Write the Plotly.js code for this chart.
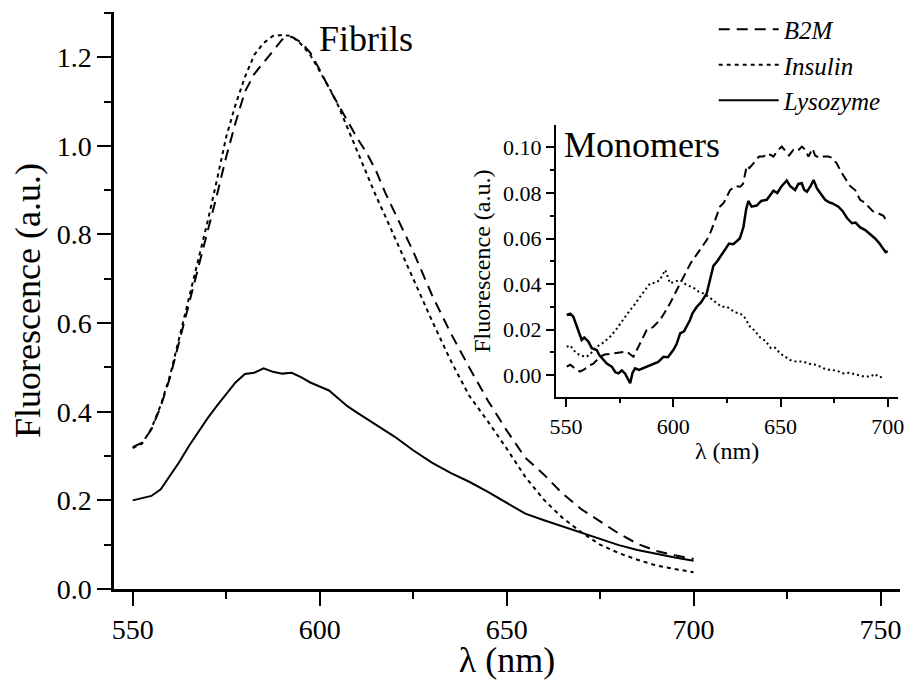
<!DOCTYPE html>
<html>
<head>
<meta charset="utf-8">
<script src="https://cdn.plot.ly/plotly-3.0.1.min.js"></script>
<style>
html,body{margin:0;padding:0;background:#fff;}
#chart{width:919px;height:680px;}
#chart svg text{font-family:"Liberation Serif", serif !important;}
</style>
</head>
<body>
<div id="chart"></div>
<script>
// ---------- Fibrils (main plot) ----------
const fibrilWavelength = [550,552.5,555,557.5,560,562.5,565,567.5,570,572.5,575,577.5,580,582.5,585,587.5,590,592.5,595,597.5,600,602.5,605,607.5,610,612.5,615,617.5,620,625,630,635,640,645,650,655,660,665,670,675,680,685,690,695,700];
const fibrilB2M = [0.320,0.330,0.360,0.412,0.478,0.560,0.642,0.720,0.800,0.888,0.975,1.052,1.122,1.162,1.188,1.215,1.240,1.246,1.234,1.210,1.172,1.130,1.092,1.055,1.018,0.985,0.945,0.895,0.850,0.762,0.664,0.578,0.500,0.425,0.358,0.296,0.258,0.215,0.180,0.152,0.125,0.102,0.086,0.076,0.068];
const fibrilInsulin = [0.318,0.328,0.362,0.415,0.482,0.568,0.655,0.742,0.828,0.922,1.020,1.093,1.155,1.205,1.232,1.248,1.250,1.248,1.230,1.205,1.170,1.132,1.090,1.040,0.990,0.937,0.888,0.842,0.795,0.697,0.606,0.516,0.436,0.378,0.317,0.253,0.201,0.160,0.128,0.100,0.081,0.066,0.053,0.045,0.038];
const fibrilLysozyme = [0.200,0.205,0.210,0.225,0.255,0.287,0.322,0.355,0.385,0.413,0.440,0.466,0.485,0.488,0.498,0.490,0.486,0.488,0.478,0.466,0.457,0.448,0.430,0.412,0.398,0.384,0.372,0.358,0.344,0.313,0.285,0.262,0.242,0.219,0.194,0.170,0.155,0.141,0.128,0.114,0.099,0.088,0.079,0.071,0.064];

// ---------- Monomers (inset) ----------
const monoLysozymeX = [550.3,552,553.4,555,557.3,558.5,560.4,562,564.3,565.5,567.4,569,571.3,573,574.4,576,577.5,579.9,581,582.2,584,586.1,588,590.7,593,595.4,597.5,600,601.5,603.2,605,607.8,609,611,613,615.6,617,618.7,620.5,622,624.2,626,628,629.6,631,632.7,634,635,636.5,638.9,641,643.6,645,646.7,648.5,650.5,652.9,654.5,656.8,658.3,659.9,661,662.3,664,665.4,667,668.5,670.8,672.5,674,677,679,681,683.3,685,687,689.5,691,692.5,694.1,696,698,699,700];
const monoLysozymeY = [0.0264,0.0270,0.0256,0.0212,0.0154,0.0165,0.0147,0.0118,0.0110,0.0088,0.0066,0.0050,0.0037,0.0012,0.0007,0.0020,0.0007,-0.0036,0.0010,0.0029,0.0022,0.0030,0.0040,0.0051,0.0058,0.0080,0.0078,0.0110,0.0135,0.0183,0.0192,0.0242,0.0272,0.0300,0.0320,0.0359,0.0420,0.0480,0.0500,0.0520,0.0550,0.0578,0.0575,0.0590,0.0600,0.0650,0.0730,0.0765,0.0740,0.0745,0.0765,0.0770,0.0790,0.0810,0.0800,0.0830,0.0855,0.0830,0.0813,0.0840,0.0843,0.0815,0.0806,0.0830,0.0857,0.0820,0.0800,0.0770,0.0760,0.0755,0.0740,0.0720,0.0690,0.0667,0.0670,0.0650,0.0637,0.0625,0.0615,0.0600,0.0580,0.0550,0.0540,0.0545];
const monoB2MX = [550.3,552,554,556.5,558.5,560.5,562.7,565.9,568,570,572.1,575,578.3,580,581.4,583,584.5,587.6,590.5,593.8,596,598.5,602.4,606.3,608,610.2,613,615.6,617.5,619.5,621.8,623.4,626.5,629,631.2,632.5,634.3,635.5,637.4,640,642,644,646.7,648.5,650.6,652.5,654,656,658,660,661.5,663,665,666.1,668,670,672.3,674,676.2,678.6,680.5,682.5,684.8,687.1,689,691,693,695.7,698,700];
const monoB2MY = [0.0037,0.0045,0.0030,0.0015,0.0025,0.0040,0.0050,0.0080,0.0090,0.0092,0.0095,0.0100,0.0103,0.0090,0.0080,0.0110,0.0139,0.0198,0.0210,0.0242,0.0275,0.0315,0.0388,0.0460,0.0490,0.0520,0.0555,0.0593,0.0630,0.0680,0.0740,0.0755,0.0813,0.0830,0.0828,0.0840,0.0920,0.0910,0.0930,0.0960,0.0960,0.0975,0.0960,0.0985,0.1004,0.0980,0.0965,0.0990,0.0985,0.1004,0.0990,0.0960,0.0995,0.0965,0.0955,0.0960,0.0960,0.0955,0.0930,0.0887,0.0860,0.0830,0.0813,0.0770,0.0760,0.0740,0.0720,0.0710,0.0700,0.0667];
const monoInsulinX = [550.3,552,553.5,555,557,559.6,561.5,564.3,567,570.5,573,575.2,577.5,579.9,582,584.5,587,589.2,591.5,593.8,595,596.2,597.5,598.5,600.5,603.2,605.5,607.8,610,612,614,617,620.3,622.5,625,628.8,631.2,633.5,635.8,638,640.5,643,645.5,647.5,649.8,652,654.5,657,660.7,663,666.9,670,673.1,676,679.3,682,685.6,688.9,691.8,694,696,698];
const monoInsulinY = [0.0124,0.0130,0.0110,0.0095,0.0085,0.0080,0.0095,0.0124,0.0140,0.0168,0.0195,0.0227,0.0255,0.0286,0.0310,0.0344,0.0375,0.0403,0.0405,0.0418,0.0440,0.0462,0.0430,0.0403,0.0410,0.0418,0.0400,0.0388,0.0380,0.0365,0.0359,0.0340,0.0315,0.0300,0.0300,0.0275,0.0271,0.0250,0.0212,0.0195,0.0165,0.0150,0.0118,0.0120,0.0095,0.0080,0.0066,0.0060,0.0059,0.0050,0.0044,0.0030,0.0022,0.0020,0.0007,0.0010,0.0000,-0.0007,-0.0007,0.0005,-0.0010,-0.0007];

// ---------- Names and tick labels ----------
const seriesNames = ['B2M', 'Insulin', 'Lysozyme'];
const mainXTicks = [550, 600, 650, 700, 750];
const mainXTickLabels = ['550', '600', '650', '700', '750'];
const mainYTicks = [0, 0.2, 0.4, 0.6, 0.8, 1.0, 1.2];
const mainYTickLabels = ['0.0', '0.2', '0.4', '0.6', '0.8', '1.0', '1.2'];
const insetXTicks = [550, 600, 650, 700];
const insetXTickLabels = ['550', '600', '650', '700'];
const insetYTicks = [0, 0.02, 0.04, 0.06, 0.08, 0.10];
const insetYTickLabels = ['0.00', '0.02', '0.04', '0.06', '0.08', '0.10'];

const FONT = 'Liberation Serif';
const black = '#000000';
const serif = s => '<span style="font-family:Liberation Serif">' + s + '</span>';

const traces = [
  {x: fibrilWavelength, y: fibrilB2M, name: serif('<i>' + seriesNames[0] + '</i>'), type: 'scatter', mode: 'lines',
   line: {color: black, width: 2, dash: '11px,7px'}, xaxis: 'x', yaxis: 'y'},
  {x: fibrilWavelength, y: fibrilInsulin, name: serif('<i>' + seriesNames[1] + '</i>'), type: 'scatter', mode: 'lines',
   line: {color: black, width: 2, dash: '4px,4px'}, xaxis: 'x', yaxis: 'y'},
  {x: fibrilWavelength, y: fibrilLysozyme, name: serif('<i>' + seriesNames[2] + '</i>'), type: 'scatter', mode: 'lines',
   line: {color: black, width: 2}, xaxis: 'x', yaxis: 'y'},
  {x: monoB2MX, y: monoB2MY, name: seriesNames[0], type: 'scatter', mode: 'lines', showlegend: false,
   line: {color: black, width: 2, dash: '9px,5px'}, xaxis: 'x2', yaxis: 'y2'},
  {x: monoInsulinX, y: monoInsulinY, name: seriesNames[1], type: 'scatter', mode: 'lines', showlegend: false,
   line: {color: black, width: 2, dash: '2px,3px'}, xaxis: 'x2', yaxis: 'y2'},
  {x: monoLysozymeX, y: monoLysozymeY, name: seriesNames[2], type: 'scatter', mode: 'lines', showlegend: false,
   line: {color: black, width: 2.5}, xaxis: 'x2', yaxis: 'y2'}
];

const axisCommon = {
  showline: true, linecolor: black, showgrid: false, zeroline: false,
  ticks: 'outside', tickcolor: black, mirror: false, tickmode: 'array'
};

const layout = {
  width: 919, height: 680,
  margin: {l: 114, r: 19, t: 12, b: 91, autoexpand: false},
  paper_bgcolor: '#ffffff', plot_bgcolor: 'rgba(0,0,0,0)',
  font: {family: FONT, color: black},
  template: {layout: {font: {family: FONT, color: black}}},
  showlegend: true,
  legend: {
    x: 0.763, y: 1.0095, xanchor: 'left', yanchor: 'top',
    font: {family: FONT, size: 25, color: black},
    itemwidth: 60, bgcolor: 'rgba(0,0,0,0)', borderwidth: 0, tracegroupgap: 0
  },
  xaxis: Object.assign({}, axisCommon, {
    domain: [0, 1], anchor: 'y', range: [545, 755.2],
    tickvals: mainXTicks, ticktext: mainXTickLabels.map(serif), linewidth: 2.5, ticklen: 14, tickwidth: 2,
    minor: {tickvals: [575, 625, 675, 725], ticklen: 7, tickwidth: 2, ticks: 'outside', tickcolor: black},
    tickfont: {family: FONT, size: 28, color: black},
    title: {text: serif('λ (nm)'), font: {family: FONT, size: 36, color: black}, standoff: 12},
    automargin: false
  }),
  yaxis: Object.assign({}, axisCommon, {
    domain: [0, 1], anchor: 'x', range: [0, 1.302],
    tickvals: mainYTicks, ticktext: mainYTickLabels.map(serif), linewidth: 2.5, ticklen: 14, tickwidth: 2,
    minor: {tickvals: [0.1, 0.3, 0.5, 0.7, 0.9, 1.1, 1.3], ticklen: 7, tickwidth: 2, ticks: 'outside', tickcolor: black},
    tickfont: {family: FONT, size: 28, color: black},
    title: {text: serif('Fluorescence (a.u.)'), font: {family: FONT, size: 36, color: black}, standoff: 6},
    automargin: false
  }),
  xaxis2: Object.assign({}, axisCommon, {
    domain: [0.5623, 0.9978], anchor: 'y2', range: [545.3, 704.9],
    tickvals: insetXTicks, ticktext: insetXTickLabels.map(serif), linewidth: 2, ticklen: 8, tickwidth: 1.5,
    minor: {tickvals: [575, 625, 675], ticklen: 4, tickwidth: 1.5, ticks: 'outside', tickcolor: black},
    tickfont: {family: FONT, size: 22, color: black},
    title: {text: serif('λ (nm)'), font: {family: FONT, size: 24, color: black}, standoff: 4},
    automargin: false
  }),
  yaxis2: Object.assign({}, axisCommon, {
    domain: [0.3322, 0.8042], anchor: 'x2', range: [-0.0098, 0.1099],
    tickvals: insetYTicks, ticktext: insetYTickLabels.map(serif), linewidth: 2, ticklen: 8, tickwidth: 1.5,
    minor: {tickvals: [0.01, 0.03, 0.05, 0.07, 0.09], ticklen: 4, tickwidth: 1.5, ticks: 'outside', tickcolor: black},
    tickfont: {family: FONT, size: 22, color: black},
    title: {text: serif('Fluorescence (a.u.)'), font: {family: FONT, size: 24, color: black}, standoff: 6},
    automargin: false
  }),
  annotations: [
    {text: serif('Fibrils'), xref: 'x', yref: 'y', x: 599.4, y: 1.240, xanchor: 'left', yanchor: 'middle',
     showarrow: false, font: {family: FONT, size: 36, color: black}},
    {text: serif('Monomers'), xref: 'x2', yref: 'y2', x: 548.1, y: 0.1011, xanchor: 'left', yanchor: 'middle',
     showarrow: false, font: {family: FONT, size: 36, color: black}}
  ]
};

Plotly.newPlot('chart', traces, layout, {displayModeBar: false}).then(function(gd) {
  gd.querySelectorAll('text, tspan').forEach(function(el) {
    el.style.setProperty('font-family', '"Liberation Serif", serif', 'important');
  });
});
</script>
</body>
</html>
